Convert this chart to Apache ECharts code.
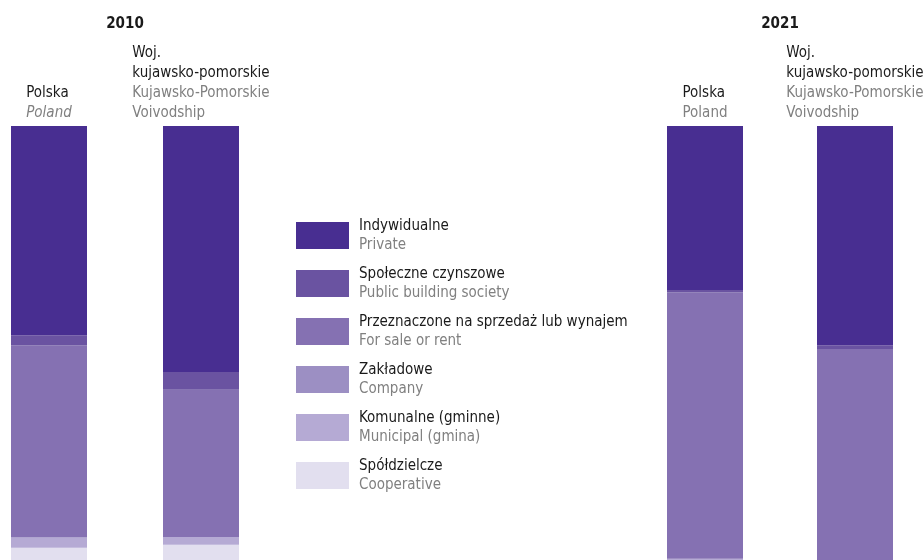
<!DOCTYPE html>
<html>
<head>
<meta charset="utf-8">
<script src="https://cdn.jsdelivr.net/npm/echarts@6/dist/echarts.min.js"></script>
<style>html,body{margin:0;padding:0;background:#fff;}#c{width:924px;height:560px;}</style>
</head>
<body>
<div id="c"></div>
<script>
// ---- data ----
const years = ['2010', '2021'];
const catPL = ['Polska', 'Woj.\nkujawsko-pomorskie'];
const catEN = ['Poland', 'Kujawsko-Pomorskie\nVoivodship'];
const seriesPL = ['Spółdzielcze', 'Komunalne (gminne)', 'Zakładowe', 'Przeznaczone na sprzedaż lub wynajem', 'Społeczne czynszowe', 'Indywidualne'];
const seriesEN = ['Cooperative', 'Municipal (gmina)', 'Company', 'For sale or rent', 'Public building society', 'Private'];
// shares in % for [Polska, Woj. kujawsko-pomorskie]
const coop2010 = [2.8, 3.5];
const kom2010  = [2.3, 1.8];
const zakl2010 = [0.2, 0.0];
const sale2010 = [44.2, 33.9];
const spol2010 = [2.3, 4.1];
const ind2010  = [48.2, 56.7];
const coop2021 = [0.0, 0.0];
const kom2021  = [0.3, 0.0];
const zakl2021 = [0.0, 0.0];
const sale2021 = [61.4, 48.6];
const spol2021 = [0.5, 0.9];
const ind2021  = [37.8, 50.5];

// ---- styles ----
const colors = ['#e2dfef', '#b5aad4', '#9c8fc3', '#8571b2', '#6a53a1', '#482e91'];
const FONT = "'Liberation Sans Narrow', 'DejaVu Sans Condensed', 'Roboto', sans-serif";
const data2010 = [coop2010, kom2010, zakl2010, sale2010, spol2010, ind2010];
const data2021 = [coop2021, kom2021, zakl2021, sale2021, spol2021, ind2021];

function catLabel(italicEN) {
  return function (v, idx) {
    const pl = catPL[idx].split('\n').map(s => '{a|' + s + '}');
    const en = catEN[idx].split('\n').map(s => '{' + (italicEN && idx === 0 ? 'i' : 'g') + '|' + s + '}');
    return pl.concat(en).join('\n');
  };
}
const labelRich = {
  a: { fontFamily: FONT, fontSize: 15, color: '#1a1a1a', lineHeight: 20, align: 'left' },
  g: { fontFamily: FONT, fontSize: 15, color: '#808080', lineHeight: 20, align: 'left' },
  i: { fontFamily: FONT, fontSize: 15, color: '#808080', lineHeight: 20, align: 'left', fontStyle: 'italic' }
};

function xAx(gi, year, italic) {
  return {
    type: 'category', gridIndex: gi, position: 'top', data: catPL, boundaryGap: false,
    axisLine: { show: false }, axisTick: { show: false }, splitLine: { show: false },
    name: year, nameLocation: 'middle', nameGap: 94, nameMoveOverlap: false,
    nameTextStyle: { fontFamily: FONT, fontSize: 15, fontWeight: 'bold', color: '#1a1a1a' },
    axisLabel: { interval: 0, margin: 3, verticalAlign: 'bottom', formatter: catLabel(italic), rich: labelRich }
  };
}
function yAx(gi) {
  return { type: 'value', gridIndex: gi, min: 0, max: 100, show: false };
}

const series = [];
[data2010, data2021].forEach((grp, gi) => {
  grp.forEach((vals, si) => {
    series.push({
      type: 'bar', name: seriesPL[si], xAxisIndex: gi, yAxisIndex: gi, stack: 's' + gi,
      data: vals, barWidth: 76, clip: false, itemStyle: { color: colors[si] },
      emphasis: { disabled: true }
    });
  });
});

const legendOrder = seriesPL.slice().reverse();
const option = {
  animation: false,
  grid: [
    { left: 49, width: 152, top: 126, bottom: 0, containLabel: false, outerBoundsMode: 'none' },
    { left: 705, width: 150, top: 126, bottom: 0, containLabel: false, outerBoundsMode: 'none' }
  ],
  xAxis: [xAx(0, years[0], true), xAx(1, years[1], false)],
  yAxis: [yAx(0), yAx(1)],
  legend: {
    orient: 'vertical', left: 296, top: 217, padding: 0, itemWidth: 53, itemHeight: 27, itemGap: 12,
    icon: 'rect', selectedMode: false, data: legendOrder,
    formatter: function (name) {
      const i = seriesPL.indexOf(name);
      return '{a|' + name + '}\n{b|' + seriesEN[i] + '}';
    },
    textStyle: {
      rich: {
        a: { fontFamily: FONT, fontSize: 15, color: '#1a1a1a', lineHeight: 20, padding: [2, 0, 0, 5] },
        b: { fontFamily: FONT, fontSize: 15, color: '#808080', lineHeight: 20, padding: [0, 0, 0, 5] }
      }
    }
  },
  series: series
};
const chart = echarts.init(document.getElementById('c'), null, { renderer: 'canvas' });
chart.setOption(option);
</script>
</body>
</html>
